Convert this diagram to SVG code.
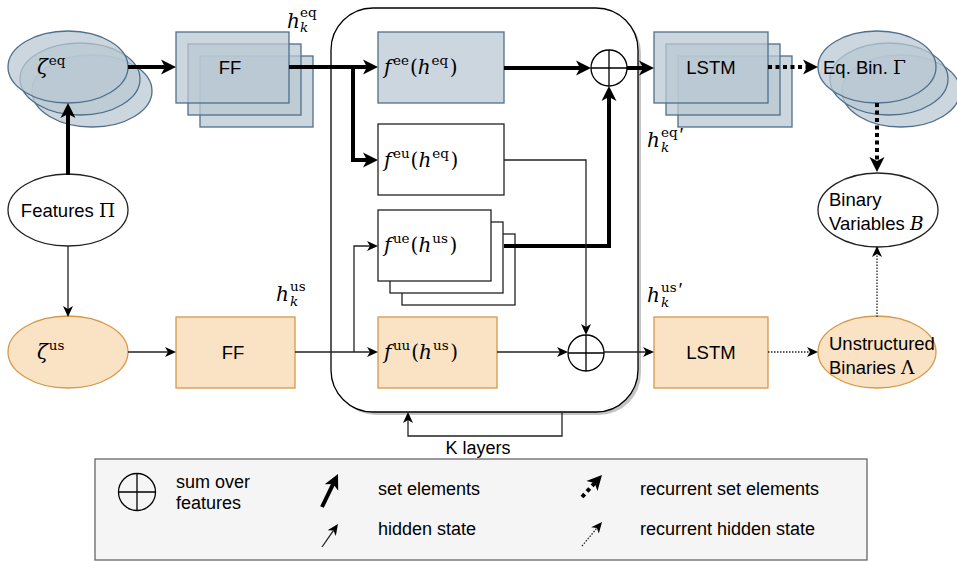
<svg xmlns="http://www.w3.org/2000/svg" width="957" height="561" viewBox="0 0 957 561">
<style>
.blue{fill:#bac8d3;fill-opacity:.75;stroke:#4f6f8a;stroke-width:1.3}
.orange{fill:#fae3c5;stroke:#d6994a;stroke-width:1.3}
.white{fill:#fff;stroke:#222;stroke-width:1.3}
.lbl{font-family:"Liberation Sans",Arial,sans-serif;font-size:18.5px;fill:#000}
.leg{font-family:"Liberation Sans",Arial,sans-serif;font-size:18px;fill:#000}
.m{font-family:"DejaVu Serif",serif;font-size:20px;fill:#000}
.sp{font-size:13.5px;font-style:normal}
.it{font-style:italic}
.gr{font-family:"DejaVu Serif",serif}
.pr{font-family:"Liberation Sans",sans-serif;font-size:19px;font-style:italic}
.thick{stroke:#000;stroke-width:4;fill:none}
.thin{stroke:#222;stroke-width:1.3;fill:none}
.dotk{stroke:#000;stroke-width:4;fill:none;stroke-dasharray:4 3.5}
.dott{stroke:#222;stroke-width:1.3;fill:none;stroke-dasharray:1.5 1.5}
</style>
<defs>
<marker id="ak" markerUnits="userSpaceOnUse" markerWidth="20" markerHeight="20" viewBox="0 -10 20 20" refX="4" refY="0" orient="auto"><path d="M0,-7.5L15,0L0,7.5L4,0Z" fill="#000"/></marker>
<marker id="at" markerUnits="userSpaceOnUse" markerWidth="14" markerHeight="14" viewBox="0 -7 14 14" refX="3" refY="0" orient="auto"><path d="M0,-5L11,0L0,5L3,0Z" fill="#000"/></marker>
</defs>

<g id="kblock">
<rect x="334" y="11" width="307" height="404" rx="42" fill="#c4c4c4"/>
<rect x="331" y="8" width="307" height="404" rx="42" fill="#fff" stroke="#000" stroke-width="1.3"/>
</g>

<g id="zeta_eq">
<ellipse cx="92" cy="91" rx="60" ry="36" class="blue"/>
<ellipse cx="80" cy="79" rx="60" ry="36" class="blue"/>
<ellipse cx="68" cy="67" rx="60" ry="36" class="blue"/>
<text x="37" y="74" class="m"><tspan class="it">ζ</tspan><tspan class="sp" dy="-9" dx="1">eq</tspan></text>
</g>

<g id="ff_eq">
<rect x="200" y="56" width="113" height="71" class="blue"/>
<rect x="188" y="44" width="113" height="71" class="blue"/>
<rect x="176" y="32" width="113" height="71" class="blue"/>
<text x="230" y="74" class="lbl" text-anchor="middle">FF</text>
</g>
<g id="h_eq_label"><text x="287" y="28" class="m it" font-size="19">h</text><text x="300" y="17" class="m sp">eq</text><text x="300" y="32" class="m it sp">k</text></g>

<g id="features">
<ellipse cx="68" cy="210" rx="60" ry="36" class="white" stroke="#000"/>
<text x="68" y="217" class="lbl" text-anchor="middle">Features <tspan class="gr">Π</tspan></text>
</g>

<g id="zeta_us">
<ellipse cx="68" cy="352" rx="60" ry="36" class="orange"/>
<text x="37" y="359" class="m"><tspan class="it">ζ</tspan><tspan class="sp" dy="-9" dx="1">us</tspan></text>
</g>

<g id="ff_us">
<rect x="176" y="317" width="119" height="71" class="orange"/>
<text x="233" y="359" class="lbl" text-anchor="middle">FF</text>
</g>
<g id="h_us_label"><text x="276" y="301" class="m it" font-size="19">h</text><text x="290" y="291" class="m sp">us</text><text x="290" y="306" class="m it sp">k</text></g>

<g id="f_ee">
<rect x="378" y="32" width="126" height="71" class="blue"/>
<text x="384" y="74" class="m"><tspan class="it">f</tspan><tspan class="sp" dy="-9" dx="1.5">ee</tspan><tspan dy="9" dx="1">(</tspan><tspan class="it">h</tspan><tspan class="sp" dy="-9" dx="1">eq</tspan><tspan dy="9" dx="1.5">)</tspan></text>
</g>

<g id="f_eu">
<rect x="378" y="124" width="126" height="71" class="white"/>
<text x="384" y="167" class="m"><tspan class="it">f</tspan><tspan class="sp" dy="-9" dx="1.5">eu</tspan><tspan dy="9" dx="1">(</tspan><tspan class="it">h</tspan><tspan class="sp" dy="-9" dx="1">eq</tspan><tspan dy="9" dx="1.5">)</tspan></text>
</g>

<g id="f_ue">
<rect x="402" y="234" width="113" height="71" class="white"/>
<rect x="390" y="222" width="113" height="71" class="white"/>
<rect x="378" y="210" width="113" height="71" class="white"/>
<text x="384" y="252" class="m"><tspan class="it">f</tspan><tspan class="sp" dy="-9" dx="1.5">ue</tspan><tspan dy="9" dx="1">(</tspan><tspan class="it">h</tspan><tspan class="sp" dy="-9" dx="1">us</tspan><tspan dy="9" dx="1.5">)</tspan></text>
</g>

<g id="f_uu">
<rect x="378" y="317" width="119" height="71" class="orange"/>
<text x="384" y="359" class="m"><tspan class="it">f</tspan><tspan class="sp" dy="-9" dx="1.5">uu</tspan><tspan dy="9" dx="1">(</tspan><tspan class="it">h</tspan><tspan class="sp" dy="-9" dx="1">us</tspan><tspan dy="9" dx="1.5">)</tspan></text>
</g>

<g id="sum_eq">
<circle cx="609" cy="68" r="18" fill="#fff" stroke="#000" stroke-width="1.3"/>
<path d="M591,68H627M609,50V86" stroke="#000" stroke-width="1.3"/>
</g>

<g id="sum_us">
<circle cx="586" cy="353" r="18" fill="#fff" stroke="#000" stroke-width="1.3"/>
<path d="M568,353H604M586,335V371" stroke="#000" stroke-width="1.3"/>
</g>

<g id="h_eq2_label"><text x="647" y="147" class="m it" font-size="19">h</text><text x="661" y="137" class="m sp">eq<tspan class="pr" dx="1" dy="4">′</tspan></text><text x="661" y="152" class="m it sp">k</text></g>
<g id="h_us2_label"><text x="647" y="302" class="m it" font-size="19">h</text><text x="661" y="292" class="m sp">us<tspan class="pr" dx="1" dy="4">′</tspan></text><text x="661" y="307" class="m it sp">k</text></g>

<g id="lstm_eq">
<rect x="678" y="56" width="114" height="71" class="blue"/>
<rect x="666" y="44" width="114" height="71" class="blue"/>
<rect x="654" y="32" width="114" height="71" class="blue"/>
<text x="711" y="74" class="lbl" text-anchor="middle">LSTM</text>
</g>

<g id="lstm_us">
<rect x="654" y="317" width="114" height="71" class="orange"/>
<text x="711" y="359" class="lbl" text-anchor="middle">LSTM</text>
</g>

<g id="eq_bin">
<ellipse cx="901" cy="91" rx="59" ry="36" class="blue"/>
<ellipse cx="889" cy="79" rx="59" ry="36" class="blue"/>
<ellipse cx="877" cy="67" rx="59" ry="36" class="blue"/>
<text x="823" y="74" class="lbl">Eq. Bin. <tspan class="gr">Γ</tspan></text>
</g>

<g id="binary_vars">
<ellipse cx="878" cy="210" rx="60" ry="37" class="white" stroke="#000"/>
<text x="829" y="206" class="lbl">Binary</text>
<text x="829" y="230" class="lbl">Variables <tspan class="gr it">B</tspan></text>
</g>

<g id="unstructured">
<ellipse cx="877" cy="352" rx="59" ry="36" class="orange"/>
<text x="829" y="350" class="lbl">Unstructured</text>
<text x="829" y="374" class="lbl">Binaries <tspan class="gr">Λ</tspan></text>
</g>

<g id="connectors">
<path class="thick" d="M128,67H165" marker-end="url(#ak)"/>
<path class="thick" d="M68,175V114" marker-end="url(#ak)"/>
<path class="thin" d="M68,246V309" marker-end="url(#at)"/>
<path class="thin" d="M128,352H168" marker-end="url(#at)"/>
<path class="thick" d="M289,67H367" marker-end="url(#ak)"/>
<path class="thick" d="M353,67V160H367" marker-end="url(#ak)"/>
<path class="thick" d="M504,68H580" marker-end="url(#ak)"/>
<path class="thick" d="M627,68H643" marker-end="url(#ak)"/>
<path class="thick" d="M504,246H609V97" marker-end="url(#ak)"/>
<path class="dotk" d="M768,67H807" marker-end="url(#ak)"/>
<path class="dotk" d="M877,103V161" marker-end="url(#ak)"/>
<path class="thin" d="M295,352H370" marker-end="url(#at)"/>
<path class="thin" d="M354,352V246H370" marker-end="url(#at)"/>
<path class="thin" d="M504,160H586V327" marker-end="url(#at)"/>
<path class="thin" d="M497,352H560" marker-end="url(#at)"/>
<path class="thin" d="M604,352H646" marker-end="url(#at)"/>
<path class="dott" d="M768,352H810" marker-end="url(#at)"/>
<path class="dott" d="M877,317V254" marker-end="url(#at)"/>
<path class="thin" d="M562,412V436H408V420" marker-end="url(#at)"/>
</g>
<text x="478" y="454" class="leg" text-anchor="middle">K layers</text>

<g id="legend">
<rect x="95" y="459" width="772" height="101" fill="#f5f5f5" stroke="#666" stroke-width="1.3"/>
<circle cx="137" cy="492" r="18.5" fill="none" stroke="#000" stroke-width="1.3"/>
<path d="M118.5,492H155.5M137,473.5V510.5" stroke="#000" stroke-width="1.3"/>
<text x="176" y="488" class="leg">sum over</text>
<text x="176" y="509" class="leg">features</text>
<path class="thick" d="M322,507L333.2,483.9" marker-end="url(#ak)"/>
<text x="378" y="495" class="leg">set elements</text>
<path class="thin" d="M322,547L333.4,530.6" marker-end="url(#at)"/>
<text x="378" y="535" class="leg">hidden state</text>
<path class="dotk" d="M582,497L594.6,483.1" marker-end="url(#ak)"/>
<text x="640" y="495" class="leg">recurrent set elements</text>
<path class="dott" d="M582,546L596.9,528.1" marker-end="url(#at)"/>
<text x="640" y="535" class="leg">recurrent hidden state</text>
</g>
</svg>
